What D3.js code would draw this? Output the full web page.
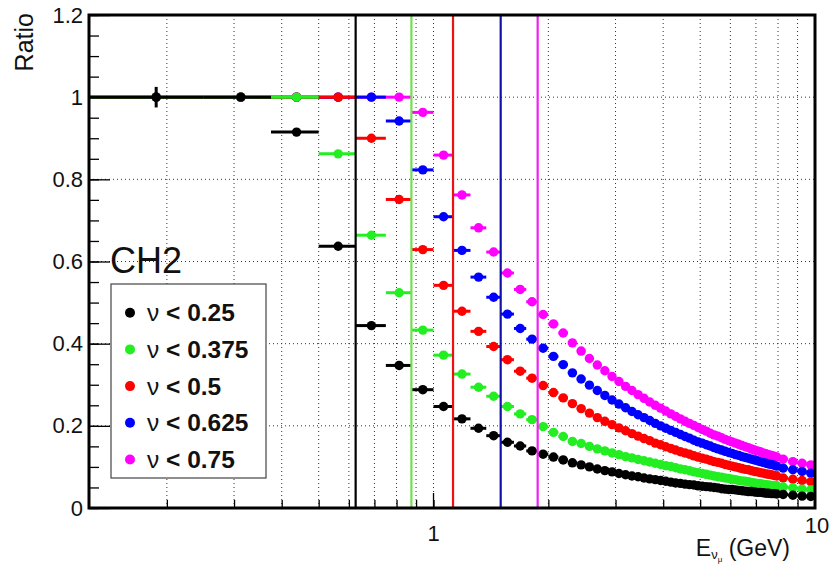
<!DOCTYPE html>
<html>
<head>
<meta charset="utf-8">
<script src="https://cdn.jsdelivr.net/npm/d3@7"></script>
<style>
  body { margin: 0; background: #fff; }
  text { font-family: 'Liberation Sans', Arial, Helvetica, sans-serif; }
</style>
</head>
<body>
<svg id="chart" width="831" height="565"></svg>
<script>
// bin edges in E (GeV): 0.125 wide up to 8, then 0.5 wide up to 10
const binEdges = [0.125, 0.25, 0.375, 0.5, 0.625, 0.75, 0.875, 1, 1.125, 1.25, 1.375, 1.5, 1.625, 1.75, 1.875, 2,
  2.125, 2.25, 2.375, 2.5, 2.625, 2.75, 2.875, 3, 3.125, 3.25, 3.375, 3.5, 3.625, 3.75, 3.875, 4,
  4.125, 4.25, 4.375, 4.5, 4.625, 4.75, 4.875, 5, 5.125, 5.25, 5.375, 5.5, 5.625, 5.75, 5.875, 6,
  6.125, 6.25, 6.375, 6.5, 6.625, 6.75, 6.875, 7, 7.125, 7.25, 7.375, 7.5, 7.625, 7.75, 7.875, 8,
  8.5, 9, 9.5, 10];

const ratioNu025 = [1, 1, 0.915, 0.637, 0.444, 0.347, 0.288, 0.247, 0.217, 0.194, 0.176, 0.160, 0.151, 0.139, 0.131, 0.124, 0.117, 0.110,
  0.105, 0.100, 0.095, 0.091, 0.088, 0.084, 0.081, 0.078, 0.076, 0.073, 0.071, 0.069, 0.067, 0.065, 0.063, 0.061, 0.060, 0.058,
  0.057, 0.056, 0.054, 0.053, 0.052, 0.051, 0.050, 0.049, 0.047, 0.046, 0.045, 0.045, 0.044, 0.043, 0.042, 0.041, 0.040, 0.040,
  0.039, 0.038, 0.038, 0.037, 0.036, 0.036, 0.035, 0.035, 0.034,
  0.033, 0.031, 0.029, 0.028];

const ratioNu0375 = [1, 1, 1, 0.862, 0.664, 0.524, 0.433, 0.372, 0.326, 0.294, 0.272, 0.247, 0.229, 0.215, 0.198, 0.184, 0.174, 0.162,
  0.157, 0.150, 0.144, 0.139, 0.134, 0.130, 0.125, 0.122, 0.118, 0.115, 0.112, 0.109, 0.106, 0.103, 0.101, 0.098, 0.095, 0.093,
  0.091, 0.088, 0.086, 0.084, 0.082, 0.080, 0.078, 0.076, 0.075, 0.073, 0.072, 0.070, 0.069, 0.067, 0.066, 0.065, 0.064, 0.062,
  0.061, 0.060, 0.059, 0.058, 0.057, 0.056, 0.055, 0.054, 0.054,
  0.051, 0.049, 0.046, 0.044];

const ratioNu05 = [1, 1, 1, 1, 0.900, 0.751, 0.629, 0.542, 0.479, 0.430, 0.393, 0.361, 0.333, 0.316, 0.298, 0.281, 0.268, 0.254,
  0.242, 0.231, 0.220, 0.211, 0.203, 0.195, 0.188, 0.181, 0.175, 0.169, 0.164, 0.158, 0.154, 0.149, 0.145, 0.141, 0.137, 0.134,
  0.131, 0.127, 0.124, 0.121, 0.119, 0.116, 0.113, 0.111, 0.109, 0.106, 0.104, 0.102, 0.100, 0.098, 0.096, 0.094, 0.093, 0.091,
  0.089, 0.088, 0.086, 0.085, 0.083, 0.082, 0.081, 0.079, 0.078,
  0.073, 0.070, 0.067, 0.064];

const ratioNu0625 = [1, 1, 1, 1, 1, 0.942, 0.823, 0.709, 0.627, 0.562, 0.513, 0.472, 0.437, 0.411, 0.389, 0.369, 0.349, 0.329,
  0.314, 0.299, 0.286, 0.274, 0.263, 0.253, 0.244, 0.235, 0.227, 0.220, 0.213, 0.206, 0.200, 0.194, 0.189, 0.184, 0.179, 0.174,
  0.170, 0.165, 0.161, 0.158, 0.154, 0.151, 0.147, 0.144, 0.141, 0.138, 0.135, 0.133, 0.130, 0.128, 0.125, 0.123, 0.121, 0.119,
  0.117, 0.115, 0.113, 0.111, 0.109, 0.107, 0.106, 0.104, 0.102,
  0.097, 0.093, 0.089, 0.085];

const ratioNu075 = [1, 1, 1, 1, 1, 1, 0.963, 0.859, 0.762, 0.682, 0.623, 0.572, 0.532, 0.502, 0.471, 0.448, 0.426, 0.402,
  0.382, 0.364, 0.348, 0.334, 0.320, 0.308, 0.296, 0.286, 0.276, 0.267, 0.258, 0.250, 0.243, 0.236, 0.229, 0.223, 0.217, 0.211,
  0.206, 0.201, 0.196, 0.191, 0.187, 0.182, 0.178, 0.175, 0.171, 0.167, 0.164, 0.161, 0.158, 0.155, 0.152, 0.149, 0.147, 0.144,
  0.141, 0.139, 0.137, 0.134, 0.132, 0.130, 0.128, 0.126, 0.124,
  0.119, 0.113, 0.109, 0.105];

// only the first bin of the nu<0.25 series shows a visible vertical error
const firstBinError = 0.025;

const cutEnergies = [0.625, 0.875, 1.125, 1.5, 1.875];
const legendLabels = ['< 0.25', '< 0.375', '< 0.5', '< 0.625', '< 0.75'];
const seriesColors = ['#000000', '#22ee22', '#ff0000', '#0000ff', '#ff00ff'];
const cutColors = ['#000000', '#77dd55', '#ee1111', '#1111aa', '#ee22ee'];
const allSeries = [ratioNu025, ratioNu0375, ratioNu05, ratioNu0625, ratioNu075];

const yTicks = [0, 0.2, 0.4, 0.6, 0.8, 1, 1.2];
const gridX = [0.2, 0.3, 0.4, 0.5, 0.6, 0.7, 0.8, 0.9, 1, 2, 3, 4, 5, 6, 7, 8, 9];
const xLabels = [1, 10];

const svg = d3.select('#chart');
const x = d3.scaleLog().domain([0.125, 10]).range([89, 815]);
const y = d3.scaleLinear().domain([0, 1.2]).range([508, 15]);

// dotted grid
const grid = svg.append('g');
grid.selectAll('.gx').data(gridX).enter().append('line')
    .attr('x1', d => x(d)).attr('x2', d => x(d))
    .attr('y1', y(0)).attr('y2', y(1.2))
    .attr('stroke', '#333').attr('stroke-width', 1).attr('stroke-dasharray', '1,3');
grid.selectAll('.gy').data(yTicks.filter(d => d > 0 && d < 1.2)).enter().append('line')
    .attr('x1', x(0.125)).attr('x2', x(10))
    .attr('y1', d => y(d)).attr('y2', d => y(d))
    .attr('stroke', '#333').attr('stroke-width', 1).attr('stroke-dasharray', '1,3');

// y axis: minor + major ticks pointing inside the frame
svg.append('g')
    .attr('transform', 'translate(' + x(0.125) + ',0)')
    .call(d3.axisLeft(y).tickValues(d3.range(0, 1.2001, 0.05)).tickSize(-10).tickFormat(''))
    .call(g => g.select('.domain').remove())
    .selectAll('line').attr('stroke', '#000').attr('stroke-width', 1.3);
const yAxis = svg.append('g')
    .attr('transform', 'translate(' + x(0.125) + ',0)')
    .call(d3.axisLeft(y).tickValues(yTicks).tickSize(-21).tickPadding(6).tickFormat(d3.format('~g')));
yAxis.select('.domain').remove();
yAxis.selectAll('line').attr('stroke', '#000').attr('stroke-width', 1.3);
yAxis.selectAll('text').attr('font-size', 22).attr('fill', '#111');

// x axis ticks (log)
const xAxis = svg.append('g')
    .attr('transform', 'translate(0,' + y(0) + ')')
    .call(d3.axisBottom(x).tickValues(gridX).tickSize(-8).tickFormat(''));
xAxis.select('.domain').remove();
xAxis.selectAll('line').attr('stroke', '#000').attr('stroke-width', 1.3);
svg.selectAll('.xmaj').data([1]).enter().append('line')
    .attr('x1', d => x(d)).attr('x2', d => x(d))
    .attr('y1', y(0)).attr('y2', y(0) - 15)
    .attr('stroke', '#000').attr('stroke-width', 1.3);
svg.selectAll('.xlab').data(xLabels).enter().append('text')
    .attr('x', d => d === 10 ? x(d) + 2 : x(d))
    .attr('y', d => d === 10 ? 533 : 541)
    .attr('text-anchor', 'middle').attr('font-size', 22).attr('fill', '#111')
    .text(d => d);

// data: draw magenta first so black sits on top
for (let s = allSeries.length - 1; s >= 0; s--) {
  const vals = allSeries[s];
  const pts = vals.map((v, i) => ({
    lo: binEdges[i], hi: binEdges[i + 1], c: (binEdges[i] + binEdges[i + 1]) / 2, v: v,
    err: (s === 0 && i === 0) ? firstBinError : 0
  }));
  const g = svg.append('g');
  g.selectAll('.bar').data(pts).enter().append('line')
      .attr('x1', d => x(d.lo)).attr('x2', d => x(d.hi))
      .attr('y1', d => y(d.v)).attr('y2', d => y(d.v))
      .attr('stroke', seriesColors[s]).attr('stroke-width', 3);
  g.selectAll('.ebar').data(pts.filter(d => d.err > 0)).enter().append('line')
      .attr('x1', d => x(d.c)).attr('x2', d => x(d.c))
      .attr('y1', d => y(d.v + d.err)).attr('y2', d => y(d.v - d.err))
      .attr('stroke', seriesColors[s]).attr('stroke-width', 3);
  g.selectAll('circle').data(pts).enter().append('circle')
      .attr('cx', d => x(d.c)).attr('cy', d => y(d.v)).attr('r', 4.7)
      .attr('fill', seriesColors[s]);
}

// vertical cut lines
svg.selectAll('.cut').data(cutEnergies).enter().append('line')
    .attr('x1', d => x(d)).attr('x2', d => x(d))
    .attr('y1', y(0)).attr('y2', y(1.2))
    .attr('stroke', (d, i) => cutColors[i]).attr('stroke-width', 2.2);

// frame
svg.append('rect')
    .attr('x', x(0.125)).attr('y', y(1.2))
    .attr('width', x(10) - x(0.125)).attr('height', y(0) - y(1.2))
    .attr('fill', 'none').attr('stroke', '#000').attr('stroke-width', 3);

// legend
const legend = svg.append('g');
legend.append('rect')
    .attr('x', 111).attr('y', 284).attr('width', 155).attr('height', 194)
    .attr('fill', '#fff').attr('stroke', '#444').attr('stroke-width', 1.2);
legendLabels.forEach((lab, i) => {
  const ly = 312.7 + i * 36.7;
  legend.append('circle').attr('cx', 130).attr('cy', ly).attr('r', 5).attr('fill', seriesColors[i]);
  const t = legend.append('text').attr('x', 147).attr('y', ly + 8.5).attr('font-size', 24.5).attr('fill', '#111');
  t.append('tspan').text('\u03bd');
  t.append('tspan').attr('font-weight', 'bold').text(' ' + lab);
});

// CH2 label
svg.append('text').attr('x', 110).attr('y', 273).attr('font-size', 36).attr('fill', '#111').text('CH2');

// axis titles
svg.append('text')
    .attr('transform', 'translate(33,13) rotate(-90)')
    .attr('text-anchor', 'end').attr('font-size', 25).attr('fill', '#111')
    .text('Ratio');
const xt = svg.append('text').attr('x', 790).attr('y', 556)
    .attr('text-anchor', 'end').attr('font-size', 23).attr('fill', '#111');
xt.append('tspan').text('E');
xt.append('tspan').attr('font-size', 13).attr('dy', 3).text('\u03bd');
xt.append('tspan').attr('font-size', 8).attr('dy', 3).text('\u03bc');
xt.append('tspan').attr('dy', -6).text(' (GeV)');
</script>
</body>
</html>
